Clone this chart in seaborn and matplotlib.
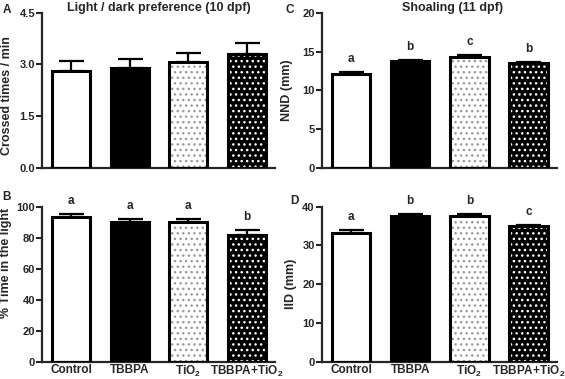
import matplotlib
matplotlib.use("Agg")
import matplotlib.pyplot as plt
import seaborn as sns
from matplotlib.patches import Rectangle

groups = ["Control", "TBBPA", "TiO$_2$", "TBBPA+TiO$_2$"]

cross_mean = [2.80, 2.91, 3.07, 3.31]
cross_sem = [0.30, 0.25, 0.26, 0.30]

light_mean = [93.2, 90.1, 90.1, 82.0]
light_sem = [1.9, 2.0, 1.9, 3.0]
light_letters = ["a", "a", "a", "b"]

nnd_mean = [12.1, 13.74, 14.3, 13.48]
nnd_sem = [0.30, 0.21, 0.30, 0.22]
nnd_letters = ["a", "b", "c", "b"]

iid_mean = [33.3, 37.6, 37.6, 35.0]
iid_sem = [0.8, 0.5, 0.5, 0.4]
iid_letters = ["a", "b", "b", "c"]

fills = ["white", "black", "white", "black"]
hatches = [None, None, "...", "..."]
hatch_colors = ["black", "black", "#9a9a9a", "white"]

sns.set_style("ticks")
plt.rcParams["font.family"] = ["Liberation Sans", "DejaVu Sans"]
plt.rcParams["font.weight"] = "bold"
plt.rcParams["axes.labelweight"] = "bold"
plt.rcParams["mathtext.fontset"] = "custom"
plt.rcParams["mathtext.rm"] = "Liberation Sans:bold"
plt.rcParams["mathtext.it"] = "Liberation Sans:bold"
plt.rcParams["mathtext.bf"] = "Liberation Sans:bold"
plt.rcParams["hatch.linewidth"] = 1.0


def panel(ax, means, sems, ylim, yticks, ylabel, fmt, label_xy, letters=None, xlabels=False):
    sns.barplot(x=groups, y=means, hue=groups, palette=fills, legend=False,
                saturation=1, width=0.65, ax=ax, zorder=2)
    centers = []
    for p, h, hc in zip(ax.patches, hatches, hatch_colors):
        p.set_linewidth(0)
        p.set_edgecolor(hc)
        if h:
            p.set_hatch(h)
        ax.add_patch(Rectangle(p.get_xy(), p.get_width(), p.get_height(),
                               fill=False, edgecolor="black", linewidth=2.2, zorder=3))
        centers.append(p.get_x() + p.get_width() / 2)
    ax.errorbar(centers, means, yerr=[[0] * len(sems), sems], fmt="none",
                ecolor="black", elinewidth=1.6, capsize=9, capthick=1.6, zorder=1)
    if letters:
        for c, m, s, t in zip(centers, means, sems, letters):
            ax.annotate(t, (c, m + s), xytext=(0, 5), textcoords="offset points",
                        ha="center", va="bottom", fontsize=8.5, fontweight="bold")
    ax.set_ylim(*ylim)
    ax.set_yticks(yticks)
    ax.set_yticklabels([fmt.format(v) for v in yticks])
    ax.set_xlim(-0.5, 3.48)
    ax.set_ylabel(ylabel, fontsize=9)
    ax.yaxis.set_label_coords(*label_xy)
    ax.set_xlabel("")
    ax.tick_params(axis="y", length=4, width=1.5, labelsize=8, pad=1)
    ax.tick_params(axis="x", length=0, labelsize=8.5, pad=1.5)
    if not xlabels:
        ax.set_xticklabels([])
    for lab in ax.get_xticklabels() + ax.get_yticklabels():
        lab.set_fontweight("bold")
    for side in ["left", "bottom"]:
        ax.spines[side].set_linewidth(1.6)
    sns.despine(ax=ax)


fig = plt.figure(figsize=(5.65, 3.79), dpi=100)
axA = fig.add_axes([0.0743, 0.5567, 0.4124, 0.4098])
axC = fig.add_axes([0.5694, 0.5567, 0.4160, 0.4098])
axB = fig.add_axes([0.0743, 0.0456, 0.4124, 0.4090])
axD = fig.add_axes([0.5694, 0.0456, 0.4160, 0.4090])

panel(axA, cross_mean, cross_sem, (0, 4.5), [0, 1.5, 3.0, 4.5], "Crossed times / min", "{:.1f}",
      (-0.124, 0.467))
panel(axC, nnd_mean, nnd_sem, (0, 20), [0, 5, 10, 15, 20], "NND (mm)", "{:g}",
      (-0.122, 0.5), nnd_letters)
panel(axB, light_mean, light_sem, (0, 100), [0, 20, 40, 60, 80, 100], "% Time in the light", "{:g}",
      (-0.129, 0.637), light_letters, xlabels=True)
panel(axD, iid_mean, iid_sem, (0, 40), [0, 10, 20, 30, 40], "IID (mm)", "{:g}",
      (-0.105, 0.5), iid_letters, xlabels=True)

axA.text(0.5, 1.033, "Light / dark preference (10 dpf)", transform=axA.transAxes,
         ha="center", va="center", fontsize=9, fontweight="bold")
axC.text(0.555, 1.033, "Shoaling (11 dpf)", transform=axC.transAxes,
         ha="center", va="center", fontsize=9, fontweight="bold")

for lab, x, y in [("A", 0.004, 0.99), ("C", 0.505, 0.99), ("B", 0.004, 0.495), ("D", 0.513, 0.485)]:
    fig.text(x, y, lab, ha="left", va="top", fontsize=8.5, fontweight="bold")

fig.savefig("out.png", dpi=100)
